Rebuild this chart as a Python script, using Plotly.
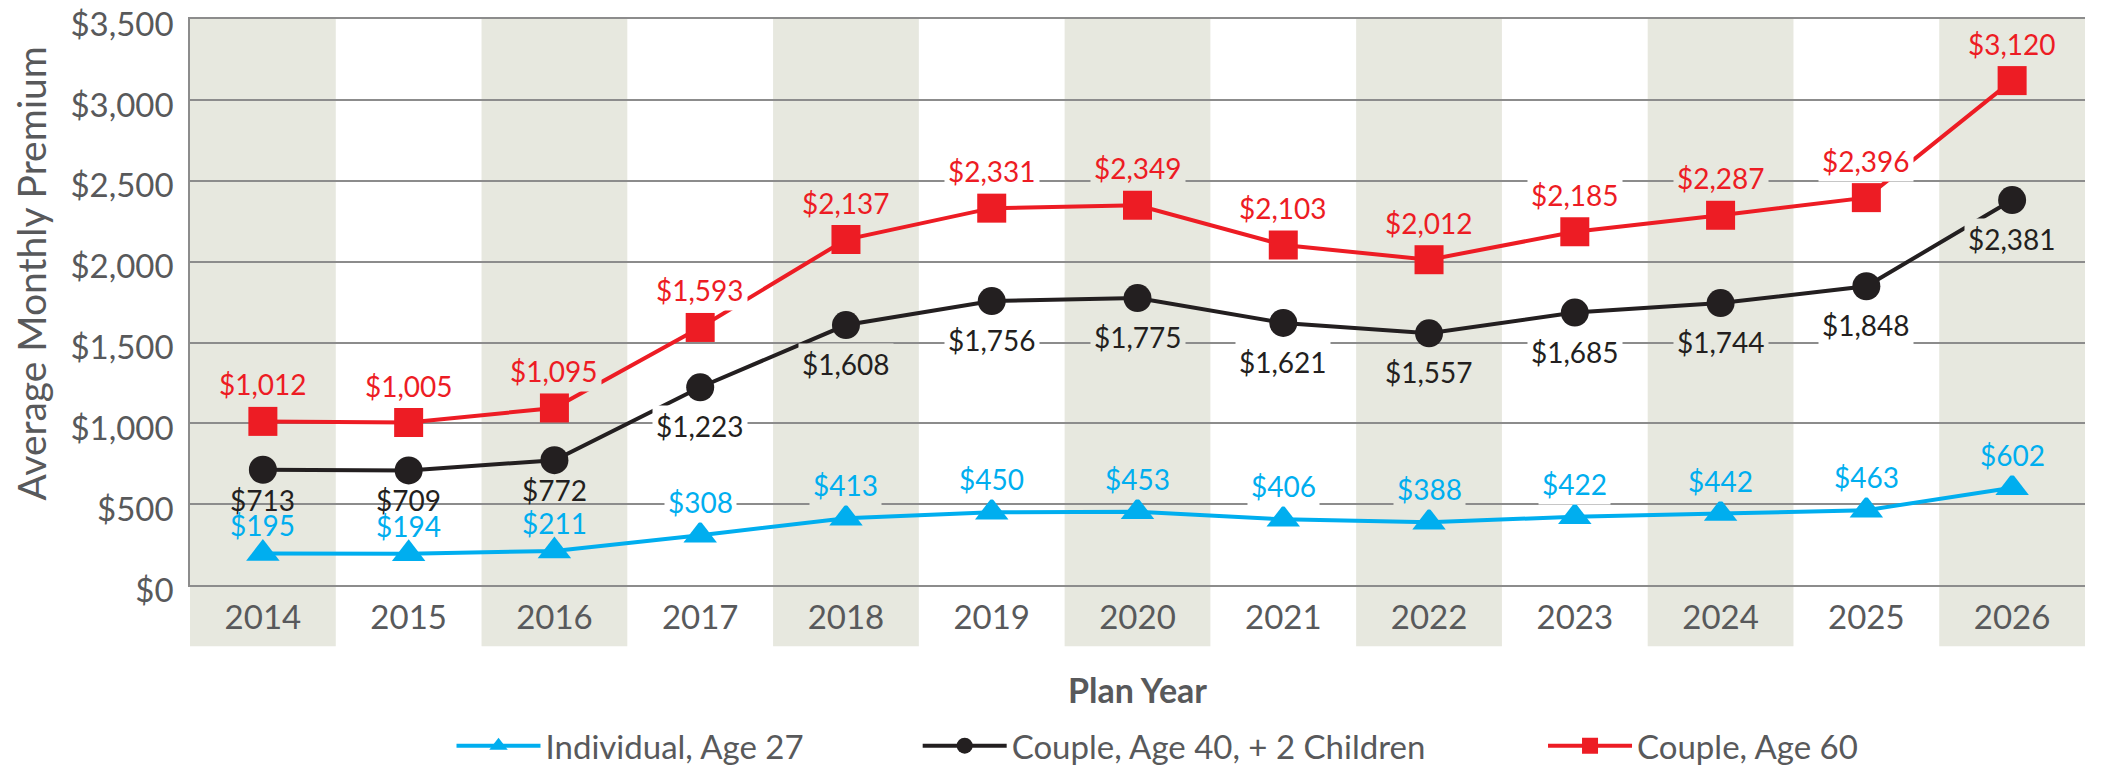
import plotly.graph_objects as go

# ---- data ----
years = list(range(2014, 2027))
year_labels = [str(y) for y in years]
individual_27 = [195, 194, 211, 308, 413, 450, 453, 406, 388, 422, 442, 463, 602]
couple_40_kids = [713, 709, 772, 1223, 1608, 1756, 1775, 1621, 1557, 1685, 1744, 1848, 2381]
couple_60 = [1012, 1005, 1095, 1593, 2137, 2331, 2349, 2103, 2012, 2185, 2287, 2396, 3120]
y_ticks = [0, 500, 1000, 1500, 2000, 2500, 3000, 3500]
y_tick_labels = ["$0", "$500", "$1,000", "$1,500", "$2,000", "$2,500", "$3,000", "$3,500"]
series_names = ["Individual, Age 27", "Couple, Age 40, + 2 Children", "Couple, Age 60"]

# ---- style ----
RED = "#ED1C24"
BLACK = "#231F20"
BLUE = "#00AEEF"
BAND = "#E7E8DF"
GRID = "#8C8C8C"
TXT = "#58595B"
FONT = "Lato"
CLEAR = "rgba(0,0,0,0)"
LABEL_SIZE = 28

fig = go.Figure()

# alternating background bands (extend below the axis behind tick labels)
for i, yr in enumerate(years):
    if i % 2 == 0:
        fig.add_shape(type="rect", xref="x", yref="paper",
                      x0=yr - 0.5, x1=yr + 0.5, y0=-0.108, y1=1,
                      fillcolor=BAND, line_width=0, layer="below")

# traces: black first, then blue, red on top
trace_specs = [
    (series_names[1], couple_40_kids, BLACK, "circle", 28, "legend2"),
    (series_names[0], individual_27, BLUE, "triangle-up", 29, "legend"),
    (series_names[2], couple_60, RED, "square", 29, "legend3"),
]
for name, vals, color, sym, size, leg in trace_specs:
    fig.add_trace(go.Scatter(
        x=years, y=vals, mode="lines+markers", name=name,
        line=dict(color=color, width=4),
        marker=dict(symbol=sym, size=size, color=color),
        legend=leg, cliponaxis=False, hoverinfo="skip"))


def band_bg(i):
    return BAND if i % 2 == 0 else "white"


# value labels
for i, (x, v) in enumerate(zip(years, couple_40_kids)):
    low = v < 1000
    fig.add_annotation(x=x, y=v, text=f"${v:,}", showarrow=False,
                       yshift=-30 if low else -39,
                       font=dict(family=FONT, size=LABEL_SIZE, color=BLACK),
                       bgcolor=CLEAR if low else band_bg(i), borderpad=3)
for i, (x, v) in enumerate(zip(years, individual_27)):
    low = v < 300
    fig.add_annotation(x=x, y=v, text=f"${v:,}", showarrow=False,
                       yshift=28 if low else 33,
                       font=dict(family=FONT, size=LABEL_SIZE, color=BLUE),
                       bgcolor=CLEAR if low else band_bg(i), borderpad=3)
for i, (x, v) in enumerate(zip(years, couple_60)):
    fig.add_annotation(x=x, y=v, text=f"${v:,}", showarrow=False,
                       yshift=37,
                       font=dict(family=FONT, size=LABEL_SIZE, color=RED),
                       bgcolor=band_bg(i), borderpad=3)

# y-axis title (rotated text, slightly above plot centre as in the original)
fig.add_annotation(text="Average Monthly Premium", xref="paper", yref="paper",
                   x=-0.084, y=0.55, xanchor="center", yanchor="middle",
                   textangle=-90, showarrow=False,
                   font=dict(family=FONT, size=39, color=TXT))

legend_common = dict(orientation="h", yanchor="middle", y=-0.284, xanchor="left",
                     font=dict(family=FONT, size=33, color=TXT),
                     bgcolor=CLEAR, itemwidth=84)

fig.update_layout(
    width=2115, height=757,
    margin=dict(l=182, r=38, t=11, b=180, autoexpand=False),
    paper_bgcolor="white", plot_bgcolor="white",
    font=dict(family=FONT, color=TXT),
    showlegend=True,
    legend=dict(x=0.138, **legend_common),
    legend2=dict(x=0.384, **legend_common),
    legend3=dict(x=0.714, **legend_common),
    xaxis=dict(
        range=[2013.5, 2026.5], tickmode="array", tickvals=years, ticktext=year_labels,
        showgrid=False, zeroline=False, showline=True, linecolor=GRID, linewidth=1.5,
        mirror=True, ticks="outside", ticklen=3, tickcolor=CLEAR,
        tickfont=dict(family=FONT, size=33, color=TXT), automargin=False,
        title=dict(text="Plan Year", standoff=44,
                   font=dict(family=FONT, size=34, color=TXT, weight=700)),
    ),
    yaxis=dict(
        range=[0, 3501], tickmode="array", tickvals=y_ticks, ticktext=y_tick_labels,
        showgrid=True, gridcolor=GRID, gridwidth=1.5, zeroline=False,
        showline=True, linecolor=GRID, linewidth=1.5,
        ticks="outside", ticklen=8, tickcolor=CLEAR, ticklabeloverflow="allow",
        ticklabelshift=5,
        tickfont=dict(family=FONT, size=33, color=TXT), automargin=False,
    ),
)

fig.write_html("out.html")
